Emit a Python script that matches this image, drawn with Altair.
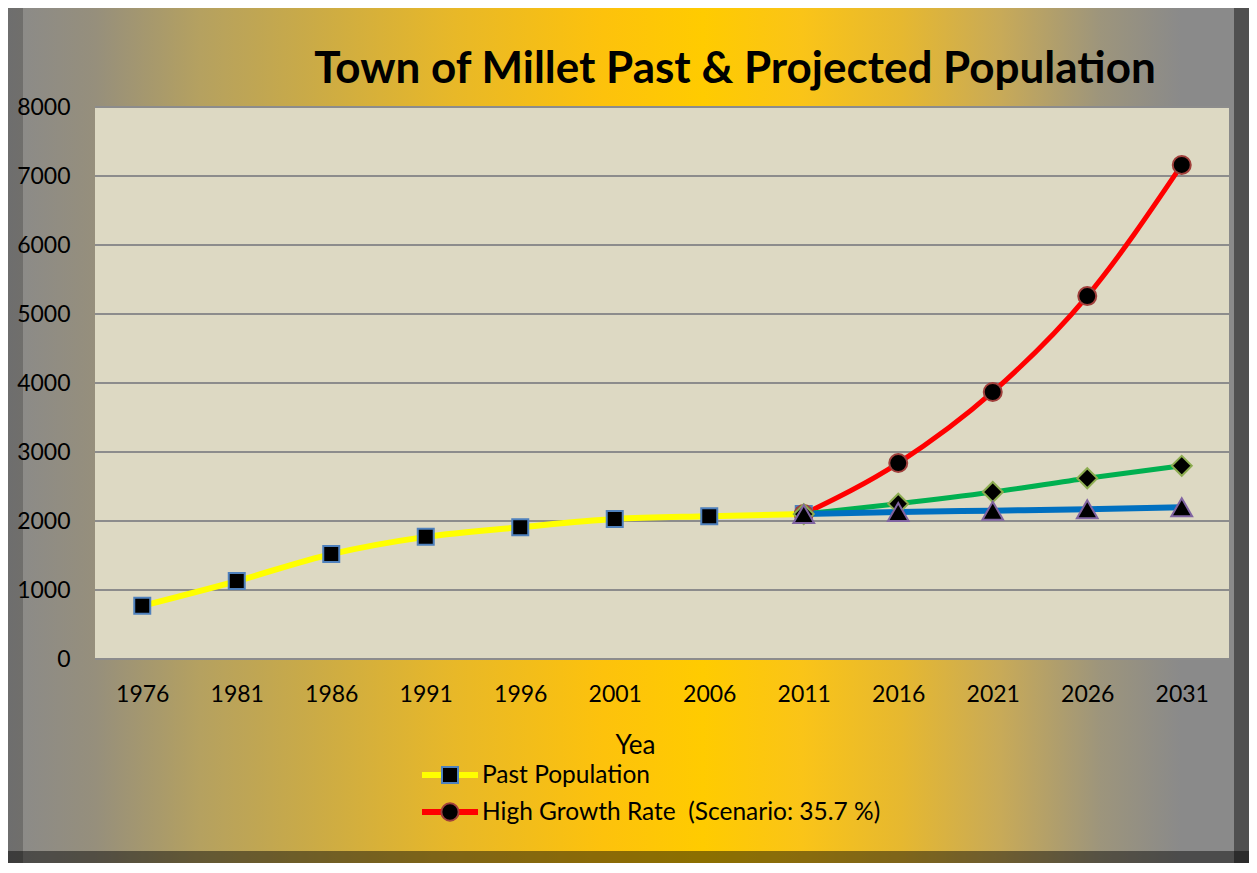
import altair as alt
import pandas as pd

# ---------------- data ----------------
years = ["1976", "1981", "1986", "1991", "1996", "2001", "2006", "2011",
         "2016", "2021", "2026", "2031"]
past_years = ["1976", "1981", "1986", "1991", "1996", "2001", "2006", "2011"]
past_pop = [770, 1130, 1520, 1770, 1910, 2030, 2070, 2100]
proj_years = ["2011", "2016", "2021", "2026", "2031"]
high_pop = [2100, 2840, 3870, 5260, 7160]
medium_pop = [2100, 2250, 2420, 2620, 2800]
low_pop = [2100, 2130, 2150, 2170, 2200]
series_names = ["Past Population",
                "High Growth Rate\u00a0 (Scenario: 35.7 %)",
                "Medium Growth Rate",
                "Low Growth Rate"]
y_ticks = [0, 1000, 2000, 3000, 4000, 5000, 6000, 7000, 8000]
title_text = "Town of Millet Past & Projected Population"
x_title = "Yea"

# ---------------- layout ----------------
W, H = 1134, 552
PL, PT = 87, 99
TW, TH = 1241, 855
FONT = "Lato"

one = pd.DataFrame({"d": [0]})

xscale = alt.Scale(type="point", domain=years, padding=0.5)
yscale = alt.Scale(domain=[0, 8000], nice=False)
xaxis = alt.Axis(title=x_title, labelAngle=0, domain=False, ticks=False, grid=False,
                 labelFont=FONT, labelFontSize=23, labelColor="black", labelPadding=24,
                 titleFont=FONT, titleFontSize=26, titleFontWeight="normal",
                 titleColor="black", titleX=540, titleY=94, titleBaseline="alphabetic",
                 titleAlign="center", zindex=1)
yaxis = alt.Axis(title=None, domain=False, ticks=False, grid=False, values=y_ticks,
                 format="d", labelFont=FONT, labelFontSize=23, labelColor="black",
                 labelPadding=25, zindex=1)

grad = alt.Gradient(
    gradient="linear", x1=0, y1=0, x2=1, y2=0,
    stops=[
        alt.GradientStop(offset=0.0, color="#8a8a8a"),
        alt.GradientStop(offset=0.07, color="#968f7c"),
        alt.GradientStop(offset=0.155, color="#b5a160"),
        alt.GradientStop(offset=0.24, color="#c9aa48"),
        alt.GradientStop(offset=0.36, color="#e8b828"),
        alt.GradientStop(offset=0.48, color="#fdc20c"),
        alt.GradientStop(offset=0.56, color="#ffcb00"),
        alt.GradientStop(offset=0.64, color="#fac418"),
        alt.GradientStop(offset=0.72, color="#e6b830"),
        alt.GradientStop(offset=0.80, color="#c8aa58"),
        alt.GradientStop(offset=0.88, color="#9d957c"),
        alt.GradientStop(offset=0.945, color="#8a8a8a"),
        alt.GradientStop(offset=1.0, color="#8a8a8a"),
    ])

bg = alt.Chart(one).mark_rect(fill=grad).encode(
    x=alt.value(-PL), x2=alt.value(TW - PL), y=alt.value(-PT), y2=alt.value(TH - PT))


def strip(x1, x2, y1, y2, op):
    return alt.Chart(one).mark_rect(fill="black", opacity=op).encode(
        x=alt.value(x1), x2=alt.value(x2), y=alt.value(y1), y2=alt.value(y2))


bevels = [
    strip(-PL, -PL + 15, -PT, TH - PT, 0.2),
    strip(TW - PL - 15, TW - PL, -PT, TH - PT, 0.42),
    strip(-PL, TW - PL, TH - PT - 12, TH - PT, 0.45),
]

plot_bg = alt.Chart(one).mark_rect(fill="#DDD9C3").encode(
    x=alt.value(0), x2=alt.value(W), y=alt.value(0), y2=alt.value(H))

grid = alt.Chart(pd.DataFrame({"v": y_ticks})).mark_rule(
    color="#8c8c8c", strokeWidth=2).encode(
    y=alt.Y("v:Q", scale=yscale, axis=yaxis))

series = [
    (series_names[0], past_years, past_pop, "#FFFF00", 6, "square", 256, "#4f81bd"),
    (series_names[1], proj_years, high_pop, "#FF0000", 5, "circle", 324, "#a0403c"),
    (series_names[2], proj_years, medium_pop, "#00B050", 5, "diamond", 400, "#8cac50"),
    (series_names[3], proj_years, low_pop, "#0070C0", 6, "triangle-up", 430, "#8064a2"),
]

lines = []
points = []
for name, yrs, vals, col, sw, shp, sz, sc in series:
    df = pd.DataFrame({"year": yrs, "pop": vals, "series": name})
    enc = dict(x=alt.X("year:O", scale=xscale, axis=xaxis),
               y=alt.Y("pop:Q", scale=yscale, axis=yaxis))
    lines.append(alt.Chart(df).mark_line(color=col, strokeWidth=sw,
                                         interpolate="monotone").encode(**enc))
    points.append(alt.Chart(df).mark_point(shape=shp, filled=True, fill="black",
                                           stroke=sc, strokeWidth=2, size=sz,
                                           opacity=1).encode(**enc))

title = alt.Chart(one).mark_text(
    text=title_text, font=FONT, fontSize=44, fontWeight="bold", align="center",
    baseline="alphabetic", color="black").encode(x=alt.value(640), y=alt.value(-24))

legend = []
for i, (name, yrs, vals, col, sw, shp, sz, sc) in enumerate(series[:2]):
    ly = 668 + 37 * i
    legend.append(alt.Chart(one).mark_rule(color=col, strokeWidth=6).encode(
        x=alt.value(327), x2=alt.value(383), y=alt.value(ly)))
    legend.append(alt.Chart(one).mark_point(shape=shp, filled=True, fill="black",
                                            stroke=sc, strokeWidth=2,
                                            size=min(sz, 300), opacity=1).encode(
        x=alt.value(355), y=alt.value(ly)))
    legend.append(alt.Chart(one).mark_text(
        text=name, font=FONT, fontSize=24.5, align="left", baseline="alphabetic",
        color="black").encode(x=alt.value(387), y=alt.value(ly + 8)))

chart = alt.layer(bg, *bevels, plot_bg, grid, *lines, *points, title, *legend).properties(
    width=W, height=H,
    padding={"left": PL, "top": PT, "right": TW - PL - W, "bottom": TH - PT - H},
    autosize=alt.AutoSizeParams(type="none"),
    background="#8a8a8a",
).configure_view(stroke=None)

chart.save("out.html", embed_options={"renderer": "svg", "actions": False})
